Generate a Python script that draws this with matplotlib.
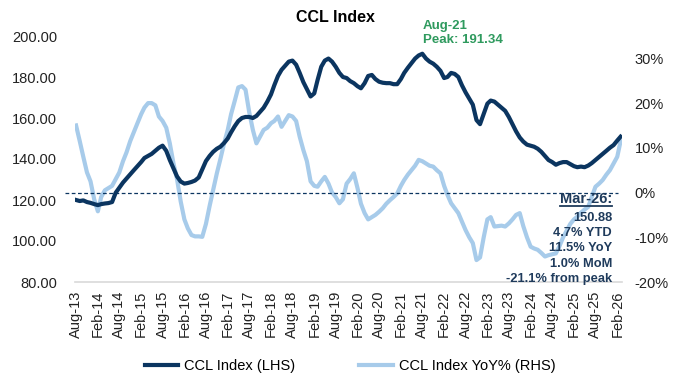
import numpy as np
import pandas as pd
import matplotlib
matplotlib.use("Agg")
from matplotlib import pyplot as plt
from matplotlib.lines import Line2D

plt.rcParams['font.family'] = ['Liberation Sans', 'DejaVu Sans']

# Monthly values, Aug-13 .. Mar-26
dates = pd.date_range("2013-08-01", "2026-03-01", freq="MS")

ccl_index = [
    120.0, 119.5, 119.8, 119.0, 118.6, 118.0, 117.5, 118.0, 118.3, 118.5, 119.0, 123.5,
    126.0, 128.5, 130.5, 132.5, 134.5, 136.5, 138.5, 140.5, 141.5, 142.5, 144.0, 145.5,
    146.5, 144.0, 139.5, 135.5, 131.5, 129.0, 128.0, 128.3, 128.8, 129.5, 131.0, 135.0,
    139.0, 141.5, 143.5, 145.0, 146.0, 147.8, 150.0, 153.0, 156.0, 158.5, 160.0, 160.5,
    160.5, 160.0, 161.0, 163.0, 165.0, 168.0, 171.5, 176.0, 180.5, 183.5, 185.5, 187.5,
    188.0, 186.0, 182.0, 177.5, 174.0, 170.5, 172.0, 178.5, 185.0, 188.0, 189.0, 187.5,
    185.0, 182.0, 180.0, 179.5, 178.0, 177.0, 175.5, 174.5, 177.0, 180.5, 181.0, 179.0,
    177.7, 177.2, 177.0, 177.0, 176.5, 176.5, 179.0, 182.0, 184.5, 186.7, 189.0, 190.5,
    191.34, 189.0, 187.5, 186.5, 185.0, 183.0, 179.5, 180.0, 182.0, 181.5, 180.0, 176.0,
    172.5, 169.5, 166.5, 159.0, 157.0, 162.0, 167.0, 168.5, 168.0, 166.5, 165.0, 163.5,
    160.5, 157.0, 153.5, 150.5, 148.5, 147.0, 146.5, 146.0, 145.0, 143.5, 141.5, 139.5,
    138.5, 137.2, 138.0, 138.5, 138.5, 137.5, 136.5, 136.0, 136.3, 136.0, 136.8, 138.0,
    139.5, 141.0, 142.5, 144.0, 145.5, 146.8, 149.0, 150.88,
]

ccl_yoy = [
    15.0, 11.5, 8.0, 4.5, 2.5, -1.5, -4.2, -1.0, 0.5, 1.0, 1.5, 3.0,
    4.5, 7.0, 9.0, 11.5, 13.5, 15.5, 17.5, 19.0, 20.0, 20.0, 19.5, 17.0,
    16.0, 14.5, 11.0, 6.5, 3.0, -2.0, -6.0, -8.0, -9.5, -9.8, -9.8, -9.9,
    -7.0, -3.0, 0.6, 4.3, 7.5, 11.0, 14.0, 17.5, 20.5, 23.5, 23.8, 23.0,
    18.0, 14.0, 11.0, 12.5, 14.0, 14.5, 15.5, 16.0, 17.0, 14.7, 16.0, 17.3,
    17.0, 16.0, 12.5, 9.5, 7.0, 2.5, 1.5, 1.3, 2.5, 3.5, 2.0, 0.0,
    -1.0, -2.4, -1.5, 2.0, 3.0, 4.3, 1.0, -2.5, -4.6, -6.0, -5.5, -5.0,
    -4.3, -3.5, -2.5, -1.7, -1.0, -0.2, 1.5, 2.8, 4.0, 5.0, 6.0, 7.3,
    7.0, 6.5, 6.0, 5.8, 5.0, 4.3, 1.5, -0.5, -2.4, -3.5, -4.6, -6.5,
    -8.4, -10.0, -11.3, -15.1, -14.5, -10.0, -6.0, -5.5, -7.6, -7.5, -7.4, -7.6,
    -6.9, -6.0, -5.0, -4.6, -7.5, -10.0, -12.1, -12.5, -12.8, -13.5, -14.3, -14.0,
    -13.8, -13.6, -12.0, -10.0, -8.5, -7.0, -6.0, -5.4, -4.5, -3.8, -3.2, -1.0,
    1.3, 2.0, 2.8, 4.0, 5.0, 6.5, 8.0, 11.5,
]

peak_label = "Aug-21\nPeak: 191.34"
latest_title = "Mar-26:"
latest_lines = ["150.88", "4.7% YTD", "11.5% YoY", "1.0% MoM", "-21.1% from peak"]

dark = '#0b3560'
light = '#a7cbea'
navy_txt = '#1f3b5c'
green = '#2f9a5e'

W, H = 675, 380
fig = plt.figure(figsize=(W / 100, H / 100), dpi=100)
ax = fig.add_axes([75 / W, 1 - 282 / H, (622 - 75) / W, (282 - 36) / H])
ax2 = ax.twinx()

ax2.plot(dates, ccl_yoy, color=light, lw=3.0, solid_joinstyle='round')
l1, = ax.plot(dates, ccl_index, color=dark, lw=3.0, solid_joinstyle='round')
l2 = Line2D([], [], color=light, lw=3.0)
ax.set_zorder(ax2.get_zorder() + 1)
ax.patch.set_visible(False)

# zero line of the right axis
ax2.axhline(0, xmin=-0.018, xmax=0.993, color=dark, lw=0.9, ls=(0, (3, 2)), clip_on=False)

x0 = dates[0] - pd.Timedelta(days=9)
x1 = dates[-1] + pd.Timedelta(days=12)
ax.set_xlim(x0, x1)
ax.set_ylim(80, 200)
ax.set_yticks(np.arange(80, 201, 20))
ax.set_yticklabels([f"{v:.2f}" for v in np.arange(80, 201, 20)])
ax2.set_ylim(-20, 35)
ax2.set_yticks(np.arange(-20, 31, 10))
ax2.set_yticklabels([f"{v:.0f}%" for v in np.arange(-20, 31, 10)])

tick_dates = dates[::6]
ax.set_xticks(tick_dates)
ax.set_xticklabels([d.strftime('%b-%y') for d in tick_dates], rotation=90)

for a in (ax, ax2):
    for s in ['top', 'left', 'right']:
        a.spines[s].set_visible(False)
    a.spines['bottom'].set_color('#d9d9d9')
    a.spines['bottom'].set_linewidth(1.2)
ax2.spines['bottom'].set_visible(False)
ax.tick_params(axis='x', length=0, pad=6, labelsize=10.5, labelcolor='#222222')
ax.tick_params(axis='y', length=0, pad=13, labelsize=10.5, labelcolor='#222222')
ax2.tick_params(axis='y', length=0, pad=9, labelsize=10.5, labelcolor='#222222')

fig.text(335 / W, 1 - 18 / H, "CCL Index", ha='center', va='center',
         fontsize=11.5, fontweight='bold', color='black')

fig.text(423 / W, 1 - 33 / H, peak_label, ha='left', va='center',
         fontsize=9.5, fontweight='bold', color=green, linespacing=1.25)

# latest reading box
t_title = fig.text(612 / W, 1 - 199 / H, latest_title, ha='right', va='center',
                   fontsize=10.5, fontweight='bold', color=navy_txt)
for i, s in enumerate(latest_lines):
    fig.text(612 / W, 1 - (218 + i * 15.2) / H, s, ha='right', va='center',
             fontsize=9.3, fontweight='bold', color=navy_txt)

fig.canvas.draw()
bb = t_title.get_window_extent()
fig.add_artist(Line2D([bb.x0 / W, bb.x1 / W], [(bb.y0 + 0.5) / H, (bb.y0 + 0.5) / H],
                      transform=fig.transFigure, color=navy_txt, lw=1.3))

fig.legend(handles=[l1, l2], labels=["CCL Index (LHS)", "CCL Index YoY% (RHS)"],
           loc='center', bbox_to_anchor=(350 / W, 1 - 366 / H), ncol=2, frameon=False,
           fontsize=10.5, handlelength=2.3, columnspacing=4.4, handletextpad=0.4)

fig.savefig("out.png", dpi=100)
